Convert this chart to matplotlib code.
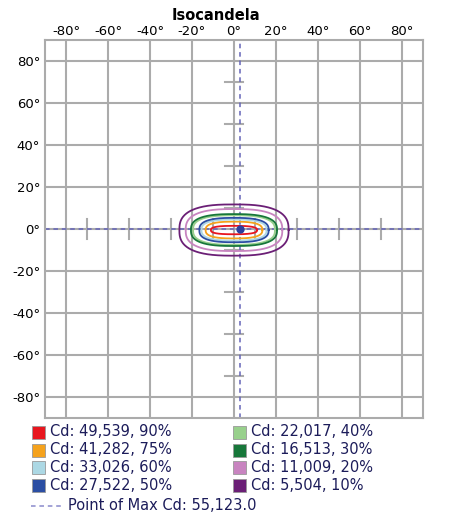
import numpy as np
import matplotlib
matplotlib.use("Agg")
import matplotlib.pyplot as plt
from matplotlib.patches import Rectangle
from matplotlib.lines import Line2D

# Data
pct_levels = [90, 75, 60, 50, 40, 30, 20, 10]
cd_values = [49539, 41282, 33026, 27522, 22017, 16513, 11009, 5504]
level_colors = ['#e8161e', '#f5a21c', '#acd8e4', '#2b4ea3',
                '#98d08c', '#17773a', '#c884c0', '#6b1f76']
half_width = [11.0, 13.5, 15.5, 16.5, 19.5, 20.5, 23.0, 26.0]   # degrees
half_height = [2.0, 4.0, 5.0, 5.8, 7.0, 7.6, 10.0, 12.2]        # degrees
contour_center = (0.0, -0.5)
max_cd = 55123.0
max_point = (3.0, 0.0)
tick_vals = [-80, -60, -40, -20, 0, 20, 40, 60, 80]
marker_vals = [-70, -50, -30, -10, 10, 30, 50, 70]

W, H = 450, 526
fig = plt.figure(figsize=(W / 100, H / 100), dpi=100)
ax = fig.add_axes([45 / W, 1 - 418 / H, 378 / W, 378 / H])

grid_col = '#ababab'
txt_col = '#1c1c5a'

ax.set_xlim(-90, 90)
ax.set_ylim(-90, 90)
ax.set_xticks(tick_vals)
ax.set_yticks(tick_vals)
ax.set_xticklabels([f'{v}\u00b0' for v in tick_vals])
ax.set_yticklabels([f'{v}\u00b0' for v in tick_vals])
ax.xaxis.tick_top()
ax.tick_params(length=0, labelsize=9.5)
ax.tick_params(axis='x', pad=1.5)
ax.tick_params(axis='y', pad=3.5)
ax.grid(True, color=grid_col, linewidth=1.5, zorder=0)
for s in ax.spines.values():
    s.set_color(grid_col)
    s.set_linewidth(1.5)
ax.set_axisbelow(True)

# small markers along the zero axes
for v in marker_vals:
    ax.plot([v, v], [-4.8, 4.8], color=grid_col, lw=1.5, zorder=1)
    ax.plot([-4.5, 4.5], [v, v], color=grid_col, lw=1.5, zorder=1)

# max point lines
ax.axvline(max_point[0], color='#6464b8', lw=1.1, ls=(0, (3, 2.5)), zorder=2)
ax.axhline(max_point[1], color='#6464b8', lw=1.1, ls=(0, (3, 2.5)), zorder=2)

# isocandela contours (rounded ovals)
t = np.linspace(0, 2 * np.pi, 400)
n = 2.7
for a, b, c in zip(half_width, half_height, level_colors):
    xs = contour_center[0] + a * np.sign(np.cos(t)) * np.abs(np.cos(t)) ** (2 / n)
    ys = contour_center[1] + b * np.sign(np.sin(t)) * np.abs(np.sin(t)) ** (2 / n)
    ax.plot(xs, ys, color=c, lw=1.3, zorder=3)

ax.plot(*max_point, 'o', color='#2b3f9e', ms=5, zorder=4)

fig.text(216 / W, 1 - 15 / H, 'Isocandela', ha='center', va='center',
         fontsize=10.5, fontweight='bold')

# legend
row_y = [432, 450, 467.5, 485]
col_x = [32, 233]
for i, (p, cd, c) in enumerate(zip(pct_levels, cd_values, level_colors)):
    col, row = divmod(i, 4)
    x0, y0 = col_x[col], row_y[row]
    fig.add_artist(Rectangle((x0 / W, 1 - (y0 + 6.5) / H), 13 / W, 13 / H,
                             facecolor=c, edgecolor='#999999', lw=0.6,
                             transform=fig.transFigure))
    fig.text((x0 + 18) / W, 1 - y0 / H, f'Cd: {cd:,}, {p}%', ha='left',
             va='center', fontsize=10.5, color=txt_col)

fig.add_artist(Line2D([31 / W, 62 / W], [1 - 506 / H, 1 - 506 / H],
                      color='#8a8acc', lw=1.1, ls=(0, (3, 2.5)),
                      transform=fig.transFigure))
fig.text(68 / W, 1 - 506 / H, f'Point of Max Cd: {max_cd:,.1f}', ha='left',
         va='center', fontsize=10.5, color=txt_col)

fig.savefig('out.png', dpi=100)
